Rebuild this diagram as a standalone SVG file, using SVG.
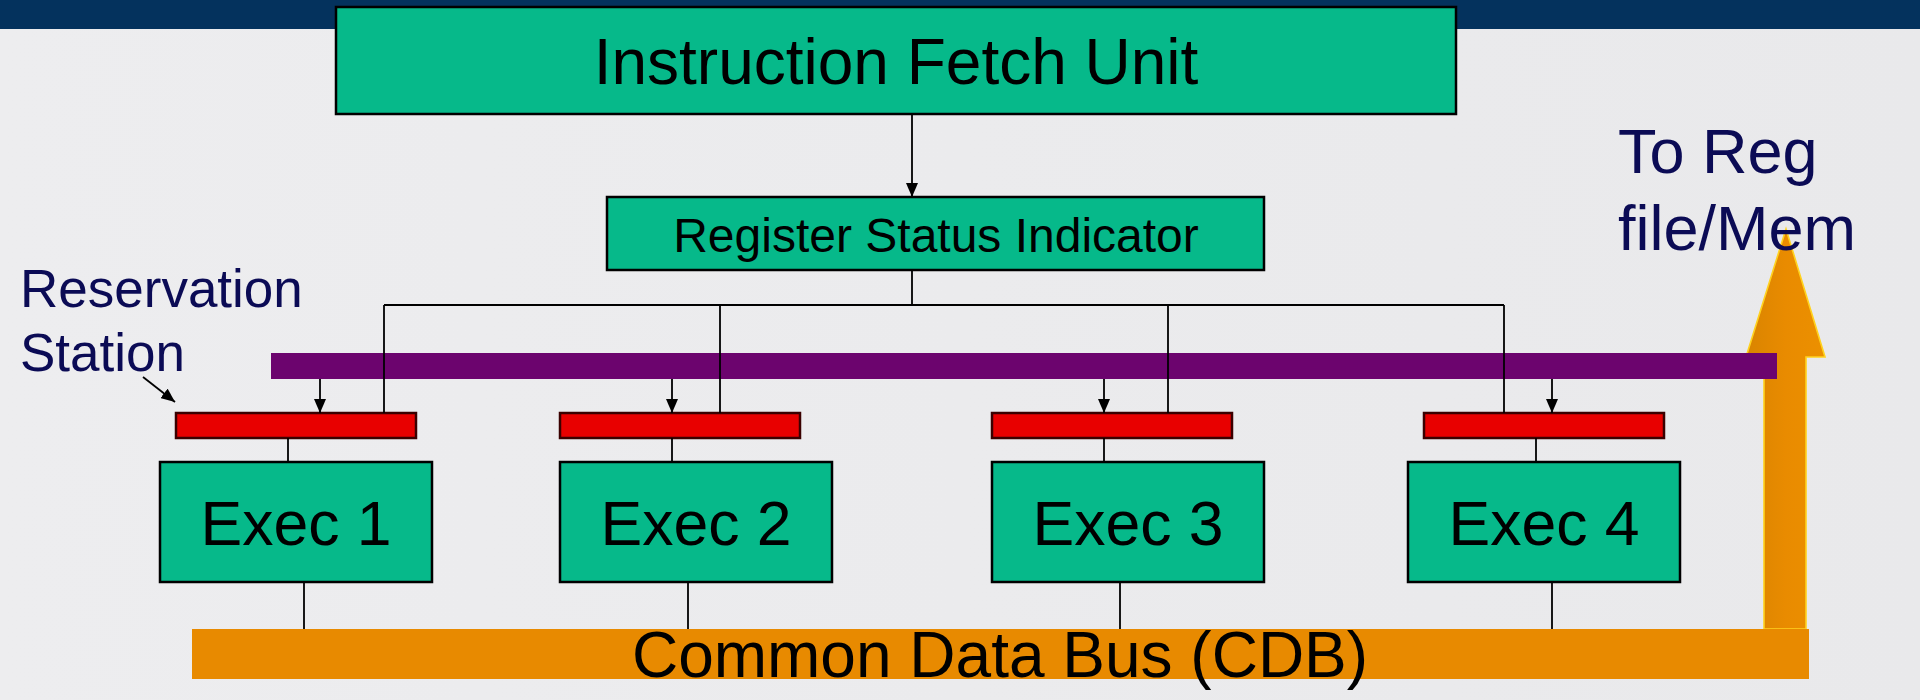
<svg xmlns="http://www.w3.org/2000/svg" width="1920" height="700" viewBox="0 0 1920 700">
  <defs>
    <linearGradient id="bg" x1="0" y1="0" x2="1" y2="0">
      <stop offset="0" stop-color="#EDEDEF"/>
      <stop offset="1" stop-color="#E9E9EB"/>
    </linearGradient>
    <linearGradient id="shaft" x1="0" y1="0" x2="1" y2="0">
      <stop offset="0" stop-color="#D98400"/>
      <stop offset="0.5" stop-color="#E98B00"/>
      <stop offset="1" stop-color="#EC9000"/>
    </linearGradient>
    <marker id="ah" markerUnits="userSpaceOnUse" markerWidth="14" markerHeight="12" viewBox="0 0 14 12" refX="14" refY="6" orient="auto">
      <path d="M0,0 L14,6 L0,12 z" fill="#000"/>
    </marker>
    <style>
      .box { fill: #06B98A; stroke: #000; stroke-width: 2.5; }
      .rs { fill: #E80000; stroke: #3A0000; stroke-width: 2.5; }
      .wire { stroke: #000; stroke-width: 1.8; fill: none; }
      .arr { stroke: #000; stroke-width: 1.8; fill: none; marker-end: url(#ah); }
      .lbl { font-family: "Liberation Sans", Arial, sans-serif; fill: #000; text-anchor: middle; }
      .note { font-family: "Liberation Sans", Arial, sans-serif; fill: #0B0B55; }
    </style>
  </defs>

  <rect x="0" y="0" width="1920" height="700" fill="url(#bg)"/>
  <rect x="0" y="0" width="1920" height="29" fill="#04325D"/>

  <!-- Orange output arrow to Reg file / Mem -->
  <g id="to-reg-arrow">
    <polygon points="1786,229 1825,357 1806,357 1806,629 1764,629 1764,357 1746,357" fill="url(#shaft)" stroke="#FFD21F" stroke-width="1.6" stroke-linejoin="miter"/>
  </g>

  <!-- Common Data Bus -->
  <g id="cdb">
    <rect x="192" y="629" width="1617" height="50" fill="#E88A00"/>
    <text class="lbl" x="1000" y="677" font-size="64">Common Data Bus (CDB)</text>
  </g>

  <!-- Operand bus (purple) -->
  <g id="operand-bus">
    <rect x="271" y="353" width="1506" height="26" fill="#6C046E"/>
  </g>

  <g id="ifu">
    <rect class="box" x="336" y="7" width="1120" height="107"/>
    <text class="lbl" x="896" y="84" font-size="64">Instruction Fetch Unit</text>
  </g>

  <g id="rsi">
    <rect class="box" x="607" y="197" width="657" height="73"/>
    <text class="lbl" x="936" y="252" font-size="48">Register Status Indicator</text>
  </g>

  <g id="rs1"><rect class="rs" x="176" y="413" width="240" height="25"/></g>
  <g id="rs2"><rect class="rs" x="560" y="413" width="240" height="25"/></g>
  <g id="rs3"><rect class="rs" x="992" y="413" width="240" height="25"/></g>
  <g id="rs4"><rect class="rs" x="1424" y="413" width="240" height="25"/></g>

  <g id="exec1">
    <rect class="box" x="160" y="462" width="272" height="120"/>
    <text class="lbl" x="296" y="545" font-size="62.5">Exec 1</text>
  </g>
  <g id="exec2">
    <rect class="box" x="560" y="462" width="272" height="120"/>
    <text class="lbl" x="696" y="545" font-size="62.5">Exec 2</text>
  </g>
  <g id="exec3">
    <rect class="box" x="992" y="462" width="272" height="120"/>
    <text class="lbl" x="1128" y="545" font-size="62.5">Exec 3</text>
  </g>
  <g id="exec4">
    <rect class="box" x="1408" y="462" width="272" height="120"/>
    <text class="lbl" x="1544" y="545" font-size="62.5">Exec 4</text>
  </g>

  <g id="connectors">
    <!-- IFU to RSI -->
    <line class="arr" x1="912" y1="114" x2="912" y2="197"/>
    <!-- RSI distribution -->
    <line class="wire" x1="912" y1="270" x2="912" y2="305"/>
    <line class="wire" x1="384" y1="305" x2="1504" y2="305"/>
    <line class="wire" x1="384" y1="305" x2="384" y2="413"/>
    <line class="wire" x1="720" y1="305" x2="720" y2="413"/>
    <line class="wire" x1="1168" y1="305" x2="1168" y2="413"/>
    <line class="wire" x1="1504" y1="305" x2="1504" y2="413"/>
    <!-- operand bus to reservation stations -->
    <line class="arr" x1="320" y1="379" x2="320" y2="413"/>
    <line class="arr" x1="672" y1="379" x2="672" y2="413"/>
    <line class="arr" x1="1104" y1="379" x2="1104" y2="413"/>
    <line class="arr" x1="1552" y1="379" x2="1552" y2="413"/>
    <!-- reservation stations to exec units -->
    <line class="wire" x1="288" y1="438" x2="288" y2="462"/>
    <line class="wire" x1="672" y1="438" x2="672" y2="462"/>
    <line class="wire" x1="1104" y1="438" x2="1104" y2="462"/>
    <line class="wire" x1="1536" y1="438" x2="1536" y2="462"/>
    <!-- exec units to CDB -->
    <line class="wire" x1="304" y1="582" x2="304" y2="629"/>
    <line class="wire" x1="688" y1="582" x2="688" y2="629"/>
    <line class="wire" x1="1120" y1="582" x2="1120" y2="629"/>
    <line class="wire" x1="1552" y1="582" x2="1552" y2="629"/>
    <!-- label pointer -->
    <line class="arr" x1="143" y1="377" x2="175" y2="402"/>
  </g>

  <g id="label-rs">
    <text class="note" x="20" y="307" font-size="53">Reservation</text>
    <text class="note" x="20" y="371" font-size="53">Station</text>
  </g>

  <g id="label-toreg">
    <text class="note" x="1618" y="173" font-size="63">To Reg</text>
    <text class="note" x="1618" y="250" font-size="63">file/Mem</text>
  </g>
</svg>
